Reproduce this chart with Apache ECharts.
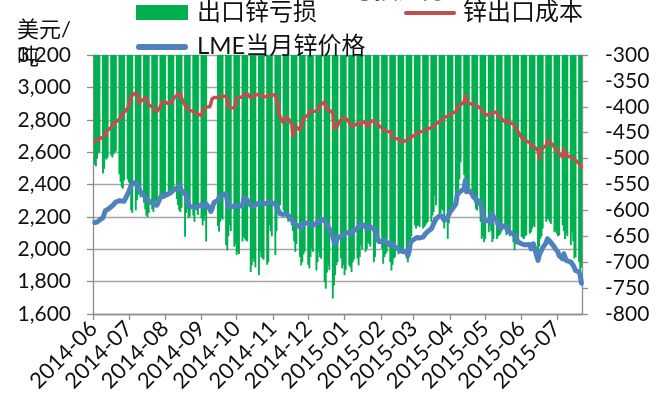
<!DOCTYPE html>
<html>
<head>
<meta charset="utf-8">
<script src="https://cdn.jsdelivr.net/npm/echarts@6/dist/echarts.min.js"></script>
<style>
  html, body { margin: 0; padding: 0; background: #fff; }
  #chart { width: 665px; height: 405px; }
</style>
</head>
<body>
<div id="chart"></div>
<script>
// Calendar span of the x axis; weekend days carry no quotes.
const startDate = '2014-06-01';
const endDate = '2015-07-22';

// 锌出口成本 (USD/t), one value per weekday, grouped by week (Mon..Fri)
const exportCost = [
  2665, 2660, 2672, 2678, 2684,
  2690, 2698, 2712, 2730, 2738,
  2752, 2765, 2770, 2778, 2790,
  2805, 2815, 2825, 2838, 2850,
  2870, 2890, 2915, 2945, 2955,
  2968, 2972, 2940, 2905, 2900,
  2930, 2942, 2935, 2910, 2892,
  2880, 2870, 2860, 2852, 2850,
  2880, 2905, 2915, 2912, 2905,
  2900, 2898, 2902, 2915, 2930,
  2950, 2965, 2976, 2960, 2935,
  2890, 2878, 2870, 2860, 2858,
  2852, 2848, 2840, 2845, 2835,
  2825, 2835, 2865, 2875, 2878,
  2880, 2900, 2930, 2935, 2938,
  2938, 2940, 2942, 2945, 2945,
  2945, 2952, 2880, 2875, 2872,
  2875, 2900, 2930, 2935, 2938,
  2942, 2950, 2955, 2960, 2962,
  2935, 2930, 2942, 2951, 2953,
  2958, 2962, 2950, 2942, 2940,
  2945, 2950, 2955, 2956, 2952,
  2955, 2950, 2900, 2848, 2820,
  2780, 2800, 2815, 2810, 2806,
  2776, 2700, 2735, 2745, 2755,
  2738, 2760, 2786, 2810, 2818,
  2830, 2845, 2858, 2855, 2850,
  2855, 2858, 2870, 2889, 2895,
  2910, 2880, 2870, 2858, 2855,
  2848, 2745, 2748, 2752, 2755,
  2800, 2806, 2812, 2817, 2810,
  2785, 2772, 2766, 2760, 2755,
  2776, 2772, 2770, 2778, 2785,
  2786, 2760, 2755, 2770, 2786,
  2796, 2792, 2786, 2770, 2760,
  2750, 2740, 2735, 2738, 2730,
  2724, 2710, 2693, 2688, 2685,
  2680, 2673, 2665, 2662, 2665,
  2673, 2676, 2679, 2685, 2693,
  2705, 2714, 2718, 2724, 2726,
  2728, 2732, 2735, 2740, 2745,
  2750, 2755, 2760, 2766, 2775,
  2786, 2790, 2796, 2805, 2815,
  2822, 2827, 2830, 2837, 2842,
  2848, 2879, 2884, 2889, 2895,
  2910, 2951, 2920, 2905, 2899,
  2895, 2893, 2893, 2890, 2885,
  2870, 2858, 2850, 2837, 2835,
  2827, 2830, 2837, 2842, 2845,
  2848, 2827, 2820, 2812, 2806,
  2786, 2790, 2796, 2790, 2780,
  2776, 2765, 2755, 2740, 2724,
  2690, 2683, 2678, 2673, 2668,
  2660, 2640, 2631, 2636, 2642,
  2611, 2559, 2610, 2621, 2625,
  2640, 2673, 2670, 2665, 2662,
  2631, 2620, 2610, 2601, 2590,
  2570, 2621, 2600, 2580, 2575,
  2570, 2565, 2559, 2555, 2549,
  2530, 2518, 2508
];

// LME当月锌价格 (USD/t), one value per weekday
const lmePrice = [
  2165, 2170, 2168, 2178, 2180,
  2195, 2205, 2238, 2232, 2245,
  2262, 2270, 2275, 2285, 2292,
  2300, 2305, 2298, 2302, 2296,
  2340, 2355, 2375, 2395, 2405,
  2415, 2400, 2386, 2370, 2355,
  2335, 2320, 2312, 2305, 2300,
  2285, 2280, 2275, 2270, 2272,
  2320, 2333, 2335, 2330, 2338,
  2342, 2344, 2350, 2358, 2365,
  2376, 2385, 2395, 2380, 2360,
  2345, 2330, 2300, 2275, 2262,
  2262, 2270, 2260, 2252, 2265,
  2275, 2270, 2262, 2265, 2280,
  2250, 2234, 2250, 2275, 2292,
  2300, 2322, 2328, 2333, 2338,
  2343, 2300, 2262, 2260, 2262,
  2268, 2271, 2270, 2268, 2266,
  2270, 2312, 2316, 2314, 2305,
  2272, 2270, 2265, 2268, 2275,
  2285, 2292, 2290, 2284, 2281,
  2285, 2288, 2292, 2290, 2286,
  2280, 2262, 2250, 2235, 2220,
  2215, 2213, 2219, 2212, 2209,
  2180, 2168, 2160, 2158, 2150,
  2140, 2127, 2145, 2158, 2162,
  2164, 2160, 2155, 2150, 2147,
  2160, 2168, 2178, 2188, 2185,
  2178, 2165, 2147, 2135, 2127,
  2080, 2050, 2034, 2050, 2070,
  2080, 2086, 2090, 2096, 2098,
  2106, 2100, 2096, 2110, 2120,
  2130, 2137, 2145, 2158, 2160,
  2140, 2127, 2135, 2140, 2137,
  2130, 2110, 2096, 2070, 2050,
  2044, 2048, 2055, 2050, 2044,
  2024, 2030, 2034, 2020, 2010,
  2000, 1995, 1990, 1983, 1985,
  1987, 1960, 1983, 2034, 2050,
  2065, 2075, 2072, 2069, 2070,
  2075, 2080, 2096, 2100, 2110,
  2127, 2140, 2158, 2170, 2188,
  2205, 2209, 2205, 2199, 2178,
  2199, 2215, 2230, 2240, 2250,
  2281, 2333, 2345, 2353, 2360,
  2374, 2426, 2355, 2360, 2364,
  2340, 2322, 2318, 2312, 2300,
  2281, 2250, 2209, 2175, 2168,
  2178, 2172, 2168, 2219, 2200,
  2178, 2147, 2140, 2130, 2127,
  2147, 2135, 2117, 2110, 2105,
  2096, 2085, 2075, 2060, 2044,
  2034, 2030, 2028, 2024, 2028,
  2030, 2003, 2020, 2034, 2028,
  1931, 1962, 1980, 1993, 2010,
  2040, 2065, 2060, 2050, 2044,
  2013, 2000, 1990, 1983, 1960,
  1941, 1972, 1962, 1931, 1925,
  1921, 1910, 1900, 1885, 1869,
  1859, 1840, 1790
];

// 出口锌亏损 (USD/t, right axis), one value per weekday; null = no quote
const exportLoss = [
  -512, -515, -500, -490, -487,
  -529, -520, -500, -502, -498,
  -494, -498, -492, -488, -486,
  -530, -545, -555, -558, -542,
  -540, -546, -566, -600, -605,
  -600, -580, -570, -566, -575,
  -585, -598, -610, -613, -605,
  -598, -603, -590, -582, -580,
  -577, -571, -575, -578, -574,
  -566, -568, -565, -563, -565,
  -578, -590, -600, -603, -595,
  -651, -605, -598, -615, -612,
  -610, -622, -597, -600, -609,
  -615, -629, -620, -610, -660,
  null, null, null, null, null,
  -630, -641, -622, -615, -618,
  -667, -677, -650, -629, -640,
  -670, -665, -686, -680, -684,
  -660, -651, -655, -658, -660,
  -719, -706, -693, -700, -710,
  -725, -680, -690, -693, -695,
  -705, -700, -629, -640, -650,
  -686, -640, -603, -598, -590,
  -600, -603, -606, -615, -622,
  -629, -640, -660, -680, -665,
  -690, -706, -700, -685, -680,
  -705, -712, -690, -674, -680,
  -716, -700, -680, -690, -693,
  -738, -751, -720, -706, -715,
  -770, -745, -725, -706, -700,
  -693, -712, -705, -725, -715,
  -706, -710, -719, -700, -695,
  -693, -706, -690, -667, -675,
  -680, -675, -661, -665, -670,
  -700, -690, -655, -660, -665,
  -674, -703, -690, -685, -680,
  -700, -716, -705, -693, -690,
  -685, -680, -675, -674, -678,
  -693, -700, -688, -680, -650,
  -629, -635, -630, -629, -632,
  -635, -632, -629, -625, -622,
  -622, -610, -603, -571, -590,
  -610, -605, -597, -600, -635,
  -655, -625, -610, -600, -597,
  -580, -571, -560, -540, -507,
  -532, -545, -552, -556, -558,
  -565, -577, -585, -597, -600,
  -622, -655, -650, -661, -655,
  -642, -629, -640, -661, -655,
  -655, -650, -648, -645, -640,
  -635, -648, -645, -642, -650,
  -661, -677, -665, -658, -655,
  -651, -653, -655, -650, -648,
  -645, -642, -635, -629, -632,
  -684, -670, -655, -650, -635,
  -622, -616, -618, -622, -626,
  -642, -640, -645, -650, -648,
  -629, -640, -655, -645, -650,
  -667, -642, -660, -693, -690,
  -700, -719, -710
];

// Axis ranges and tick steps
const leftAxisRange = [1600, 3200, 200];
const rightAxisRange = [-800, -300, 50];

const seriesNames = ['出口锌亏损', '锌出口成本', 'LME当月锌价格'];
const unitLabel = ['美元/', '吨'];
const titleText = '亏损走势';

// Build the daily category list and spread weekday values over it.
function pad(n) { return n < 10 ? '0' + n : '' + n; }
const dates = [];
const costDaily = [], lmeDaily = [], lossDaily = [];
(function () {
  const s = startDate.split('-').map(Number);
  const e = endDate.split('-').map(Number);
  let t = Date.UTC(s[0], s[1] - 1, s[2]);
  const tEnd = Date.UTC(e[0], e[1] - 1, e[2]);
  let w = 0;
  while (t <= tEnd) {
    const d = new Date(t);
    dates.push(d.getUTCFullYear() + '-' + pad(d.getUTCMonth() + 1) + '-' + pad(d.getUTCDate()));
    const wd = d.getUTCDay();
    if (wd === 0 || wd === 6) {
      costDaily.push(null); lmeDaily.push(null); lossDaily.push(null);
    } else {
      costDaily.push(w < exportCost.length ? exportCost[w] : null);
      lmeDaily.push(w < lmePrice.length ? lmePrice[w] : null);
      lossDaily.push(w < exportLoss.length ? exportLoss[w] : null);
      w++;
    }
    t += 86400000;
  }
})();

const FONT = 'Lato, "Noto Sans CJK SC", sans-serif';
const isMonthStart = (idx, val) => val.slice(8) === '01';

const chart = echarts.init(document.getElementById('chart'), null, { renderer: 'canvas' });
chart.setOption({
  animation: false,
  backgroundColor: '#ffffff',
  textStyle: { fontFamily: FONT },
  grid: { left: 93, right: 83, top: 55, bottom: 91, containLabel: false },
  xAxis: {
    type: 'category',
    data: dates,
    boundaryGap: true,
    axisLine: { show: true, lineStyle: { color: '#8c8c8c', width: 1.3 } },
    axisTick: { show: true, interval: isMonthStart, alignWithLabel: true, length: 6,
                lineStyle: { color: '#8c8c8c', width: 1.3 } },
    axisLabel: {
      interval: isMonthStart,
      rotate: 45,
      margin: 11,
      fontSize: 22,
      color: '#111',
      fontFamily: FONT,
      formatter: v => v.slice(0, 7)
    },
    splitLine: { show: false }
  },
  yAxis: [
    {
      type: 'value',
      min: leftAxisRange[0], max: leftAxisRange[1], interval: leftAxisRange[2],
      position: 'left',
      axisLine: { show: true, lineStyle: { color: '#8c8c8c', width: 1.3 } },
      axisTick: { show: true, length: 6, lineStyle: { color: '#8c8c8c', width: 1.3 } },
      axisLabel: {
        margin: 22, fontSize: 21, color: '#111', fontFamily: FONT,
        formatter: v => v.toLocaleString('en-US')
      },
      splitLine: { show: true, lineStyle: { color: '#a6a6a6', width: 1.3 } }
    },
    {
      type: 'value',
      min: rightAxisRange[0], max: rightAxisRange[1], interval: rightAxisRange[2],
      position: 'right',
      axisLine: { show: true, lineStyle: { color: '#8c8c8c', width: 1.3 } },
      axisTick: { show: true, length: 6, lineStyle: { color: '#8c8c8c', width: 1.3 } },
      axisLabel: { margin: 23, fontSize: 21, color: '#111', fontFamily: FONT },
      splitLine: { show: false }
    }
  ],
  series: [
    {
      name: seriesNames[0],
      type: 'bar',
      yAxisIndex: 1,
      data: lossDaily,
      barWidth: 1.9,
      barCategoryGap: '0%',
      clip: true,
      itemStyle: { color: '#00B050' },
      z: 1
    },
    {
      name: seriesNames[1],
      type: 'line',
      yAxisIndex: 0,
      data: costDaily,
      connectNulls: true,
      symbol: 'none',
      lineStyle: { color: '#C0504D', width: 3.5, join: 'round', cap: 'round' },
      z: 3
    },
    {
      name: seriesNames[2],
      type: 'line',
      yAxisIndex: 0,
      data: lmeDaily,
      connectNulls: true,
      symbol: 'none',
      lineStyle: { color: '#4F81BD', width: 5, join: 'round', cap: 'round' },
      z: 4
    }
  ],
  graphic: [
    // chart heading, largely above the top edge of the canvas
    { type: 'text', left: 350, top: -22, z: 10,
      style: { text: titleText, font: 'bold 24px ' + FONT, fill: '#111' } },
    // legend
    { type: 'rect', shape: { x: 136, y: 5, width: 52, height: 15 }, style: { fill: '#00B050' }, z: 10 },
    { type: 'text', x: 197, y: 12, z: 10,
      style: { text: seriesNames[0], font: '24px ' + FONT, fill: '#111', verticalAlign: 'middle' } },
    { type: 'line', shape: { x1: 406, y1: 13, x2: 454, y2: 13 },
      style: { stroke: '#C0504D', lineWidth: 4, lineCap: 'round' }, z: 10 },
    { type: 'text', x: 463, y: 12, z: 10,
      style: { text: seriesNames[1], font: '24px ' + FONT, fill: '#111', verticalAlign: 'middle' } },
    { type: 'line', shape: { x1: 139, y1: 47, x2: 185, y2: 47 },
      style: { stroke: '#4F81BD', lineWidth: 6, lineCap: 'round' }, z: 10 },
    { type: 'text', x: 197, y: 46, z: 10,
      style: { text: seriesNames[2], font: '24px ' + FONT, fill: '#111', verticalAlign: 'middle' } },
    // unit of the left axis
    { type: 'text', x: 17, y: 30, z: 10,
      style: { text: unitLabel[0], font: '22px ' + FONT, fill: '#111', verticalAlign: 'middle' } },
    { type: 'text', x: 17, y: 57, z: 10,
      style: { text: unitLabel[1], font: '22px ' + FONT, fill: '#111', verticalAlign: 'middle' } }
  ]
});
</script>
</body>
</html>
